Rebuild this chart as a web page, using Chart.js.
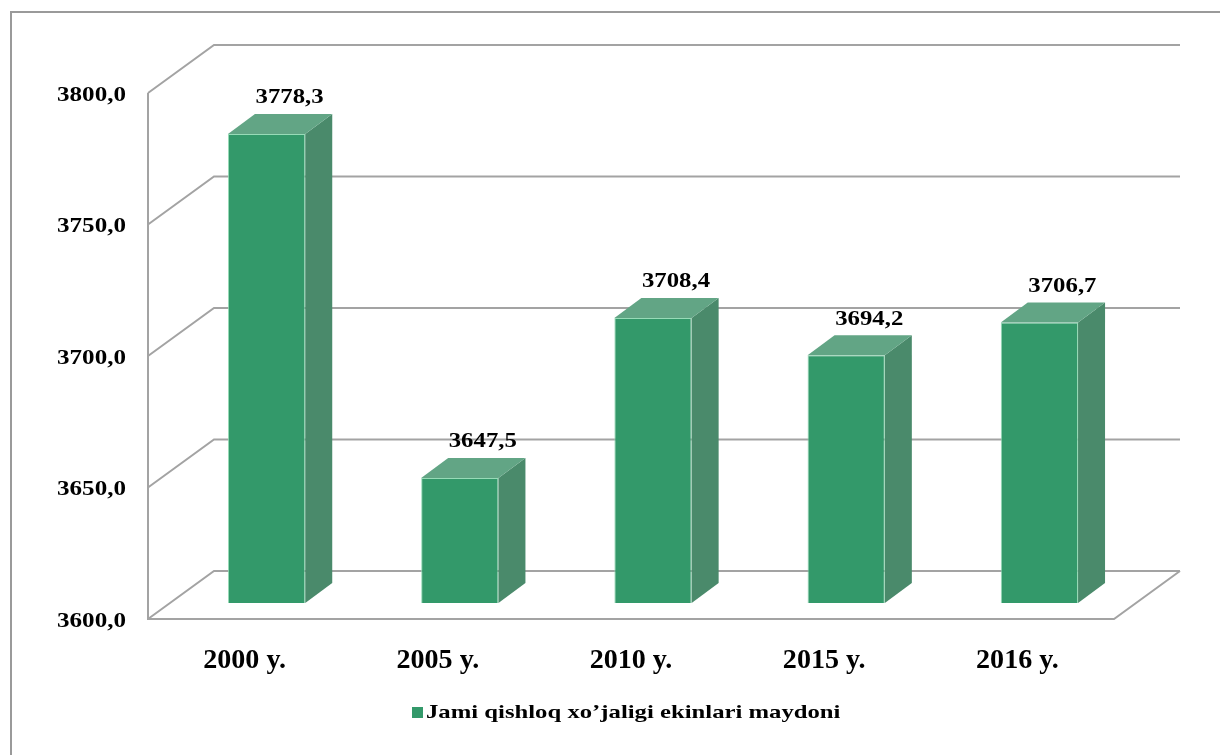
<!DOCTYPE html>
<html>
<head>
<meta charset="utf-8">
<script src="https://cdn.jsdelivr.net/npm/chart.js@4.4.1/dist/chart.umd.min.js"></script>
<style>
    body { margin: 0; background: #fff; }
    #wrap { width: 1220px; height: 755px; }
</style>
</head>
<body>
<div id="wrap"><canvas id="myChart" width="1220" height="755"></canvas></div>
<script>
// chart data
const categories = ['2000 y.', '2005 y.', '2010 y.', '2015 y.', '2016 y.'];
const areaValues = [3778.3, 3647.5, 3708.4, 3694.2, 3706.7];
const tickValues = [3600, 3650, 3700, 3750, 3800];
const seriesName = 'Jami qishloq xo\u2019jaligi ekinlari maydoni';

// 3D look
const WALL_DX = 66, WALL_DY = -48;   // back wall offset from front plane
const BAR_DX = 22, BAR_DY = -16;     // bars sit a bit inside the floor
const DEPTH_DX = 27, DEPTH_DY = -20; // depth of each bar
const GREEN = '#33996a';
const GREEN_SIDE = '#4a8a6b';
const GREEN_TOP = '#62a585';
const LINE = '#a3a3a3';
const FONT = '"Liberation Serif", "Times New Roman", serif';

function fmt(v) {
    return v.toFixed(1).replace('.', ',');
}

function stretchText(ctx, text, x, y, size, sx, align) {
    ctx.save();
    ctx.font = 'bold ' + size + 'px ' + FONT;
    ctx.fillStyle = '#000';
    ctx.textAlign = align;
    ctx.textBaseline = 'middle';
    ctx.translate(x, y);
    ctx.scale(sx, 1);
    ctx.fillText(text, 0, 0);
    ctx.restore();
}

const box3d = {
    id: 'box3d',
    beforeDraw(chart) {
        const ctx = chart.ctx;
        const { left, right, top, bottom } = chart.chartArea;
        const y = chart.scales.y;

        ctx.save();
        // outer frame
        ctx.strokeStyle = '#9a9a9a';
        ctx.lineWidth = 2;
        ctx.beginPath();
        ctx.moveTo(11, chart.height);
        ctx.lineTo(11, 12);
        ctx.lineTo(chart.width, 12);
        ctx.stroke();

        // gridlines on side + back walls
        ctx.strokeStyle = LINE;
        ctx.lineWidth = 2;
        tickValues.forEach(v => {
            const py = y.getPixelForValue(v);
            ctx.beginPath();
            ctx.moveTo(left, py);
            ctx.lineTo(left + WALL_DX, py + WALL_DY);
            ctx.lineTo(right + WALL_DX, py + WALL_DY);
            ctx.stroke();
        });

        // floor + front axis
        ctx.beginPath();
        ctx.moveTo(left, top);
        ctx.lineTo(left, bottom);
        ctx.lineTo(right, bottom);
        ctx.lineTo(right + WALL_DX, bottom + WALL_DY);
        ctx.stroke();
        ctx.restore();

        // y tick labels
        tickValues.forEach(v => {
            stretchText(ctx, fmt(v), left - 22, y.getPixelForValue(v) + 2, 22, 1.14, 'right');
        });

        // category labels
        const x = chart.scales.x;
        categories.forEach((c, i) => {
            stretchText(ctx, c, x.getPixelForValue(i), bottom + 42, 27, 1.04, 'center');
        });

        // legend
        ctx.save();
        ctx.font = 'bold 19px ' + FONT;
        const tw = ctx.measureText(seriesName).width * 1.3;
        ctx.restore();
        const total = 11 + 4 + tw;
        const lx = 412;
        const ly = bottom + 94;
        ctx.fillStyle = GREEN;
        ctx.fillRect(lx, ly - 6, 11, 11);
        stretchText(ctx, seriesName, lx + 14, ly, 19, 1.3, 'left');
    },
    beforeDatasetsDraw(chart) {
        chart.ctx.save();
        chart.ctx.translate(BAR_DX, BAR_DY);
    },
    afterDatasetsDraw(chart) {
        const ctx = chart.ctx;
        ctx.restore();
        const meta = chart.getDatasetMeta(0);
        meta.data.forEach((bar, i) => {
            const p = bar.getProps(['x', 'y', 'base', 'width'], true);
            const l = p.x - p.width / 2 + BAR_DX;
            const r = p.x + p.width / 2 + BAR_DX;
            const t = p.y + BAR_DY;
            const b = p.base + BAR_DY;

            // side face
            ctx.fillStyle = GREEN_SIDE;
            ctx.beginPath();
            ctx.moveTo(r, t);
            ctx.lineTo(r + DEPTH_DX, t + DEPTH_DY);
            ctx.lineTo(r + DEPTH_DX, b + DEPTH_DY);
            ctx.lineTo(r, b);
            ctx.closePath();
            ctx.fill();

            // top face
            ctx.fillStyle = GREEN_TOP;
            ctx.beginPath();
            ctx.moveTo(l, t);
            ctx.lineTo(l + DEPTH_DX, t + DEPTH_DY);
            ctx.lineTo(r + DEPTH_DX, t + DEPTH_DY);
            ctx.lineTo(r, t);
            ctx.closePath();
            ctx.fill();

            // value label
            stretchText(ctx, fmt(areaValues[i]), p.x + BAR_DX + 23, t + DEPTH_DY - 16, 21, 1.18, 'center');
        });
    }
};

function drawChart() {
    const ctx = document.getElementById('myChart').getContext('2d');
    new Chart(ctx, {
        type: 'bar',
        data: {
            labels: categories,
            datasets: [{
                label: seriesName,
                data: areaValues,
                base: tickValues[0],
                backgroundColor: GREEN,
                borderColor: 'rgba(140,215,175,0.9)',
                borderWidth: 1,
                categoryPercentage: 0.4,
                barPercentage: 1.0
            }]
        },
        options: {
            responsive: false,
            animation: false,
            devicePixelRatio: 1,
            layout: {
                padding: { left: 148, right: 106, top: 93, bottom: 136 }
            },
            scales: {
                x: { display: false },
                y: {
                    display: false,
                    min: 3600,
                    max: 3800,
                    ticks: { stepSize: 50 }
                }
            },
            plugins: {
                legend: { display: false },
                tooltip: { enabled: false }
            }
        },
        plugins: [box3d]
    });
}

document.addEventListener('DOMContentLoaded', drawChart);
</script>
</body>
</html>
